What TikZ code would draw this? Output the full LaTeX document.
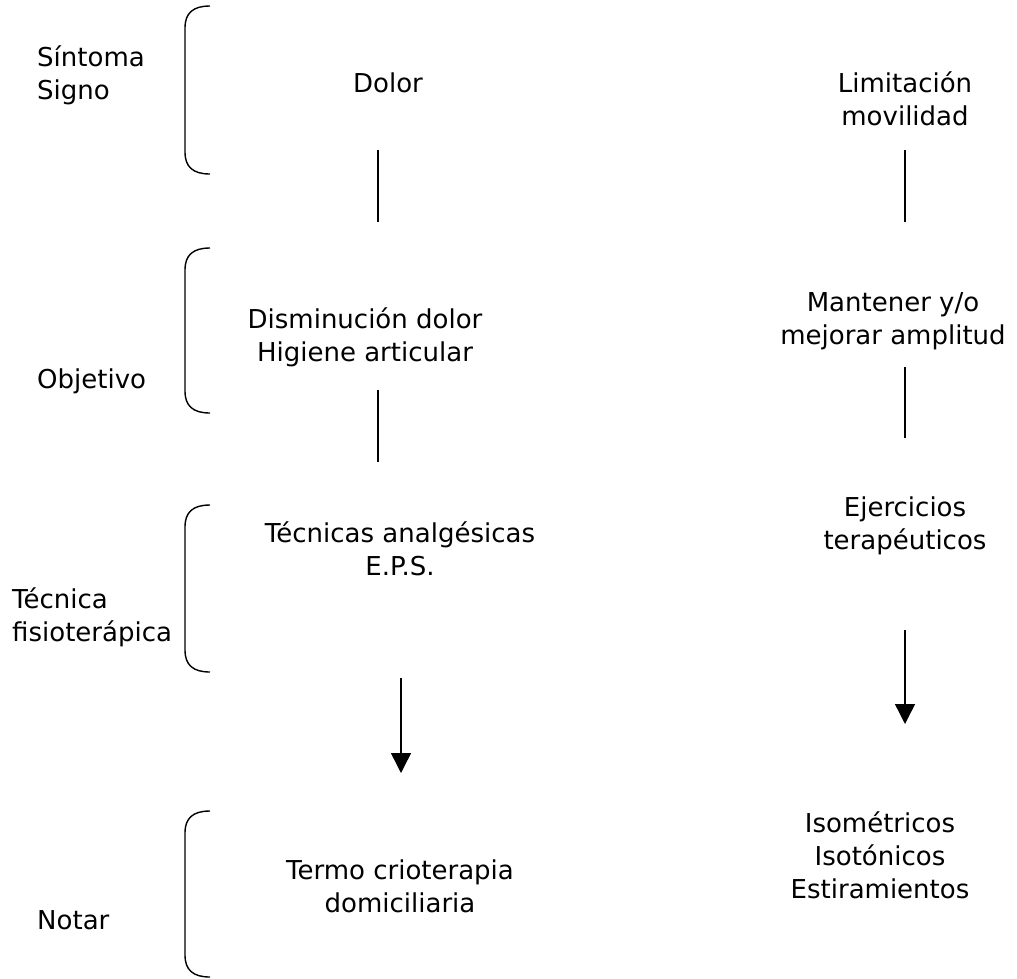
\documentclass[tikz,border=0pt]{standalone}
\usepackage{fontspec}
\setmainfont{DejaVu Sans}
\usetikzlibrary{arrows.meta}
\begin{document}
\begin{tikzpicture}[x=1pt,y=-1pt,
  txt/.style={font=\fontsize{26}{33}\selectfont, inner sep=0pt, align=center},
  lbl/.style={font=\fontsize{26}{33}\selectfont, inner sep=0pt, align=left, anchor=west},
  conn/.style={line width=1.4pt},
  arr/.style={line width=1.4pt, -{Triangle[length=20pt,width=20pt]}},
  brk/.style={line width=1.4pt}]
\useasboundingbox (0,0) rectangle (1017,978);
% left labels
\node[lbl] (sint) at (37,75) {Síntoma\\Signo};
\node[lbl] (obj) at (37,381) {Objetivo};
\node[lbl] (tec) at (12,617) {Técnica\\fisioterápica};
\node[lbl] (notar) at (37,920) {Notar};
% braces
\foreach \ya/\yb in {6/174, 248/413, 505/672, 811/977}{
  \draw[brk] (210,\ya) .. controls (193,\ya) and (185,\ya+7) .. (185,\ya+22)
    -- (185,\yb-22) .. controls (185,\yb-7) and (193,\yb) .. (210,\yb);
}
% centre column
\node[txt] (dolor) at (388,83) {Dolor};
\node[txt] (dism) at (365,337) {Disminución dolor\\Higiene articular};
\node[txt] (tecan) at (400,549) {Técnicas analgésicas\\E.P.S.};
\node[txt] (termo) at (400,886) {Termo crioterapia\\domiciliaria};
% right column
\node[txt] (limit) at (905,99) {Limitación\\movilidad};
\node[txt] (mant) at (893,321) {Mantener y/o\\mejorar amplitud};
\node[txt] (ejer) at (905,526) {Ejercicios\\terapéuticos};
\node[txt] (iso) at (880,855) {Isométricos\\Isotónicos\\Estiramientos};
% connector ends
\coordinate (l1a) at (378,150); \coordinate (l1b) at (378,222);
\coordinate (l2a) at (378,390); \coordinate (l2b) at (378,462);
\coordinate (l3a) at (401,678); \coordinate (l3b) at (401,773);
\coordinate (r1a) at (905,150); \coordinate (r1b) at (905,222);
\coordinate (r2a) at (905,367); \coordinate (r2b) at (905,438);
\coordinate (r3a) at (905,630); \coordinate (r3b) at (905,724);
\draw[conn] (l1a) -- (l1b);
\draw[conn] (l2a) -- (l2b);
\draw[arr] (l3a) -- (l3b);
\draw[conn] (r1a) -- (r1b);
\draw[conn] (r2a) -- (r2b);
\draw[arr] (r3a) -- (r3b);
\end{tikzpicture}
\end{document}
